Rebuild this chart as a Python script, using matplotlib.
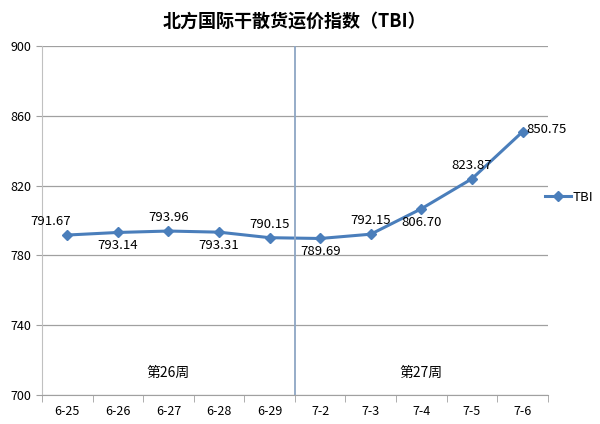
import matplotlib.pyplot as plt

plt.rcParams['font.family'] = ['Noto Sans CJK SC', 'DejaVu Sans']

# data
dates = ["6-25", "6-26", "6-27", "6-28", "6-29", "7-2", "7-3", "7-4", "7-5", "7-6"]
tbi = [791.67, 793.14, 793.96, 793.31, 790.15, 789.69, 792.15, 806.70, 823.87, 850.75]
label_pos = ["above", "below", "above", "below", "above", "below", "above", "below", "above", "right"]
weeks = ["第26周", "第27周"]

fig = plt.figure(figsize=(6, 4.24), dpi=100)
ax = fig.add_axes([0.07, 0.068, 0.843, 0.824])

x = list(range(len(dates)))
line, = ax.plot(x, tbi, color="#4A7EBB", lw=2.2, marker="D", markersize=5.5, label="TBI")

for i, v in enumerate(tbi):
    if label_pos[i] == "above":
        dx = -12 if i == 0 else 0
        ax.annotate(f"{v:.2f}", (i, v), xytext=(dx, 5), textcoords="offset points",
                    ha="center", va="bottom", fontsize=9.5)
    elif label_pos[i] == "below":
        ax.annotate(f"{v:.2f}", (i, v), xytext=(0, -5), textcoords="offset points",
                    ha="center", va="top", fontsize=9.5)
    else:
        ax.annotate(f"{v:.2f}", (i, v), xytext=(3, 2), textcoords="offset points",
                    ha="left", va="center", fontsize=9.5)

# week divider and labels
ax.axvline(4.5, color="#8EA6C4", lw=1.3)
ax.text(2, 709, weeks[0], ha="center", va="bottom", fontsize=10)
ax.text(7, 709, weeks[1], ha="center", va="bottom", fontsize=10)

ax.set_xlim(-0.5, len(dates) - 0.5)
ax.set_ylim(700, 900)
ax.set_yticks(range(700, 901, 40))
ax.set_xticks(x)
ax.set_xticklabels(dates, fontsize=9)
ax.set_xticks([i + 0.5 for i in range(-1, len(dates))], minor=True)
ax.tick_params(axis="x", which="major", length=0, pad=7)
ax.tick_params(axis="x", which="minor", length=5, color="#A0A0A0")
ax.tick_params(axis="y", length=4, color="#A0A0A0", labelsize=9)
ax.grid(axis="y", color="#A0A0A0", lw=0.9)

for s in ["top", "right"]:
    ax.spines[s].set_visible(False)
ax.spines["left"].set_color("#C0C0C0")
ax.spines["bottom"].set_color("#A0A0A0")

ax.set_title("北方国际干散货运价指数（TBI）", fontsize=13, fontweight="bold", pad=14)
fig.legend(handles=[line], loc="center left", bbox_to_anchor=(0.908, 0.535),
           frameon=False, fontsize=9.5, handlelength=2.0, handletextpad=0.1,
           borderaxespad=0, borderpad=0)

plt.savefig("out.png")
